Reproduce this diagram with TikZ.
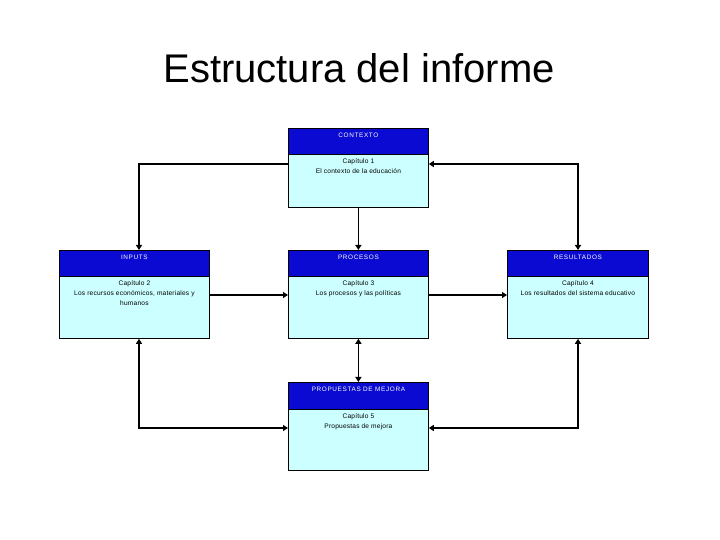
\documentclass[tikz,border=0pt]{standalone}
\usepackage{fontspec}
\setmainfont{Liberation Sans}
\newfontfamily\hdrfont[LetterSpace=10]{Liberation Sans}
\newfontfamily\bodyfont[LetterSpace=3]{Liberation Sans}
\usetikzlibrary{arrows.meta,calc}
\definecolor{hdrblue}{RGB}{10,10,210}
\definecolor{boxcyan}{RGB}{204,255,255}
\begin{document}
\begin{tikzpicture}[x=1pt,y=1pt,
  bodybox/.style={draw=black, line width=0.8pt, fill=boxcyan, inner sep=0pt, anchor=north west, minimum height=79pt},
  hdrbox/.style={draw=black, line width=0.8pt, fill=hdrblue, inner sep=0pt, anchor=north west, minimum height=26pt},
  hdrtext/.style={text=white, font=\hdrfont\fontsize{6.4}{7}\selectfont, inner sep=0pt, anchor=center},
  bodytext/.style={text=black, font=\bodyfont\fontsize{6.6}{10}\selectfont, align=center, inner sep=0pt, anchor=north},
  conn/.style={line width=1.6pt, draw=black},
  arr/.style={conn, -{Triangle[length=5pt,width=6pt]}},
  darr/.style={conn, {Triangle[length=5pt,width=6pt]}-{Triangle[length=5pt,width=6pt]}}
]
\fill[white] (0,0) rectangle (720,540);
\useasboundingbox (0,0) rectangle (720,540);

\node[font=\fontsize{40}{44}\selectfont, anchor=center] (title) at (359,472) {Estructura del informe};

% CONTEXTO
\node[bodybox, minimum width=140pt] (ctx) at (288,412) {};
\node[hdrbox, minimum width=140pt] (ctxh) at (ctx.north west) {};
\node[hdrtext] (ctxt) at ($(ctxh.north)+(0,-7)$) {CONTEXTO};
\node[bodytext] (ctxb) at ($(ctxh.south)+(0,-4)$) {Capítulo 1\\El contexto de la educación};

% INPUTS
\node[bodybox, minimum width=150pt, minimum height=88pt] (inp) at (59,290) {};
\node[hdrbox, minimum width=150pt] (inph) at (inp.north west) {};
\node[hdrtext] (inpt) at ($(inph.north)+(0,-7)$) {INPUTS};
\node[bodytext] (inpb) at ($(inph.south)+(0,-4)$) {Capítulo 2\\Los recursos económicos, materiales y\\humanos};

% PROCESOS
\node[bodybox, minimum width=140pt, minimum height=88pt] (pro) at (288,290) {};
\node[hdrbox, minimum width=140pt] (proh) at (pro.north west) {};
\node[hdrtext] (prot) at ($(proh.north)+(0,-7)$) {PROCESOS};
\node[bodytext] (prob) at ($(proh.south)+(0,-4)$) {Capítulo 3\\Los procesos y las políticas};

% RESULTADOS
\node[bodybox, minimum width=141pt, minimum height=88pt] (res) at (507,290) {};
\node[hdrbox, minimum width=141pt] (resh) at (res.north west) {};
\node[hdrtext] (rest) at ($(resh.north)+(0,-7)$) {RESULTADOS};
\node[bodytext] (resb) at ($(resh.south)+(0,-4)$) {Capítulo 4\\Los resultados del sistema educativo};

% PROPUESTAS
\node[bodybox, minimum width=140pt, minimum height=88pt] (prop) at (288,158) {};
\node[hdrbox, minimum width=140pt, minimum height=27pt] (proph) at (prop.north west) {};
\node[hdrtext] (propt) at ($(proph.north)+(0,-7)$) {PROPUESTAS DE MEJORA};
\node[bodytext] (propb) at ($(proph.south)+(0,-4)$) {Capítulo 5\\Propuestas de mejora};

% connector guide coordinates
\coordinate (lx) at (139,376);
\coordinate (rx) at (578,376);
\coordinate (my) at (0,245);
\coordinate (by) at (0,112);
\coordinate (blx) at (139,112);
\coordinate (brx) at (578,112);

\draw[arr] (ctx.west |- lx) -| (inp.north -| lx);
\draw[darr] (ctx.east |- rx) -| (res.north -| rx);
\draw[arr] (ctx.south) -- (pro.north);
\draw[arr] (inp.east |- my) -- (pro.west |- my);
\draw[arr] (pro.east |- my) -- (res.west |- my);
\draw[darr] (pro.south) -- (prop.north);
\draw[darr] (inp.south -| blx) |- (prop.west |- by);
\draw[darr] (res.south -| brx) |- (prop.east |- by);
\end{tikzpicture}
\end{document}
